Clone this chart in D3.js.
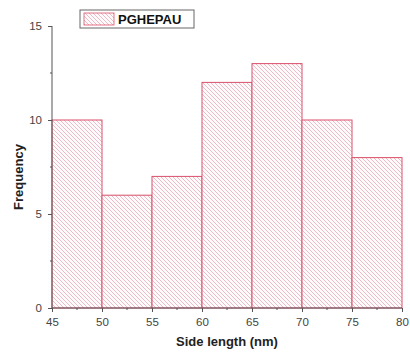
<!DOCTYPE html>
<html>
<head>
<meta charset="utf-8">
<script src="https://cdn.jsdelivr.net/npm/d3@7"></script>
<style>
  html, body { margin: 0; padding: 0; background: #fff; }
  text { font-family: "Liberation Sans", Arial, sans-serif; }
</style>
</head>
<body>
<svg id="chart" width="410" height="356"></svg>
<script>
// Size distribution histogram: bin edges (nm) and counts per bin
const binStarts = [45, 50, 55, 60, 65, 70, 75];
const binWidth = 5;
const counts = [10, 6, 7, 12, 13, 10, 8];
const xTicks = [45, 50, 55, 60, 65, 70, 75, 80];
const yTicks = [0, 5, 10, 15];
const seriesName = "PGHEPAU";

const svg = d3.select("#chart");
const plotL = 52, plotR = 402, plotT = 26, plotB = 308;

const x = d3.scaleLinear().domain([45, 80]).range([plotL, plotR]);
const y = d3.scaleLinear().domain([0, 15]).range([plotB, plotT]);

// Diagonal hatch pattern
const defs = svg.append("defs");
const pat = defs.append("pattern")
  .attr("id", "hatch")
  .attr("patternUnits", "userSpaceOnUse")
  .attr("width", 4).attr("height", 4);
pat.append("rect").attr("width", 4).attr("height", 4).attr("fill", "#fffafb");
pat.append("path")
  .attr("d", "M-1,-1 L5,5 M-1,3 L1,5 M3,-1 L5,1")
  .attr("stroke", "#e3a2ae")
  .attr("stroke-width", 0.7);

// Bars
svg.append("g").selectAll("rect")
  .data(binStarts)
  .join("rect")
  .attr("x", d => x(d))
  .attr("y", (d, i) => y(counts[i]))
  .attr("width", d => x(d + binWidth) - x(d))
  .attr("height", (d, i) => y(0) - y(counts[i]))
  .attr("fill", "url(#hatch)")
  .attr("stroke", "#d9506a")
  .attr("stroke-width", 1);

// Axes
const xAxis = d3.axisBottom(x).tickValues(xTicks).tickSize(4).tickPadding(6).tickFormat(d3.format("d"));
const yAxis = d3.axisLeft(y).tickValues(yTicks).tickSize(4).tickPadding(6).tickFormat(d3.format("d"));

const gx = svg.append("g").attr("transform", `translate(0,${plotB})`).call(xAxis);
const gy = svg.append("g").attr("transform", `translate(${plotL},0)`).call(yAxis);

[gx, gy].forEach(g => {
  g.select(".domain").attr("stroke", "#555").attr("stroke-width", 1);
  g.selectAll(".tick line").attr("stroke", "#555");
  g.selectAll(".tick text").attr("fill", "#444").attr("font-size", 11.5)
    .style("font-family", "'Liberation Sans', Arial, sans-serif");
});
gy.select(".domain").attr("d", `M0,${plotB}V${plotT}`);
gx.select(".domain").attr("d", `M${plotL},0H${plotR}`);

// Minor ticks
const xMinor = d3.range(47.5, 80, 5);
svg.append("g").selectAll("line").data(xMinor).join("line")
  .attr("x1", d => x(d)).attr("x2", d => x(d))
  .attr("y1", plotB).attr("y2", plotB + 2)
  .attr("stroke", "#555");
const yMinor = [2.5, 7.5, 12.5];
svg.append("g").selectAll("line").data(yMinor).join("line")
  .attr("x1", plotL - 2).attr("x2", plotL)
  .attr("y1", d => y(d)).attr("y2", d => y(d))
  .attr("stroke", "#555");

// Axis titles
svg.append("text")
  .attr("x", 227).attr("y", 346)
  .attr("text-anchor", "middle")
  .attr("font-size", 13).attr("font-weight", "bold").attr("fill", "#222")
  .text("Side length (nm)");
svg.append("text")
  .attr("transform", `translate(23,177) rotate(-90)`)
  .attr("text-anchor", "middle")
  .attr("font-size", 13).attr("font-weight", "bold").attr("fill", "#222")
  .text("Frequency");

// Legend
const lg = svg.append("g");
lg.append("rect")
  .attr("x", 80).attr("y", 10).attr("width", 114).attr("height", 18)
  .attr("fill", "#fff").attr("stroke", "#666").attr("stroke-width", 1);
lg.append("rect")
  .attr("x", 84).attr("y", 13).attr("width", 30).attr("height", 12)
  .attr("fill", "url(#hatch)").attr("stroke", "#d9506a").attr("stroke-width", 0.8);
lg.append("text")
  .attr("x", 118).attr("y", 24)
  .attr("font-size", 13).attr("font-weight", "bold").attr("fill", "#111")
  .text(seriesName);
</script>
</body>
</html>
